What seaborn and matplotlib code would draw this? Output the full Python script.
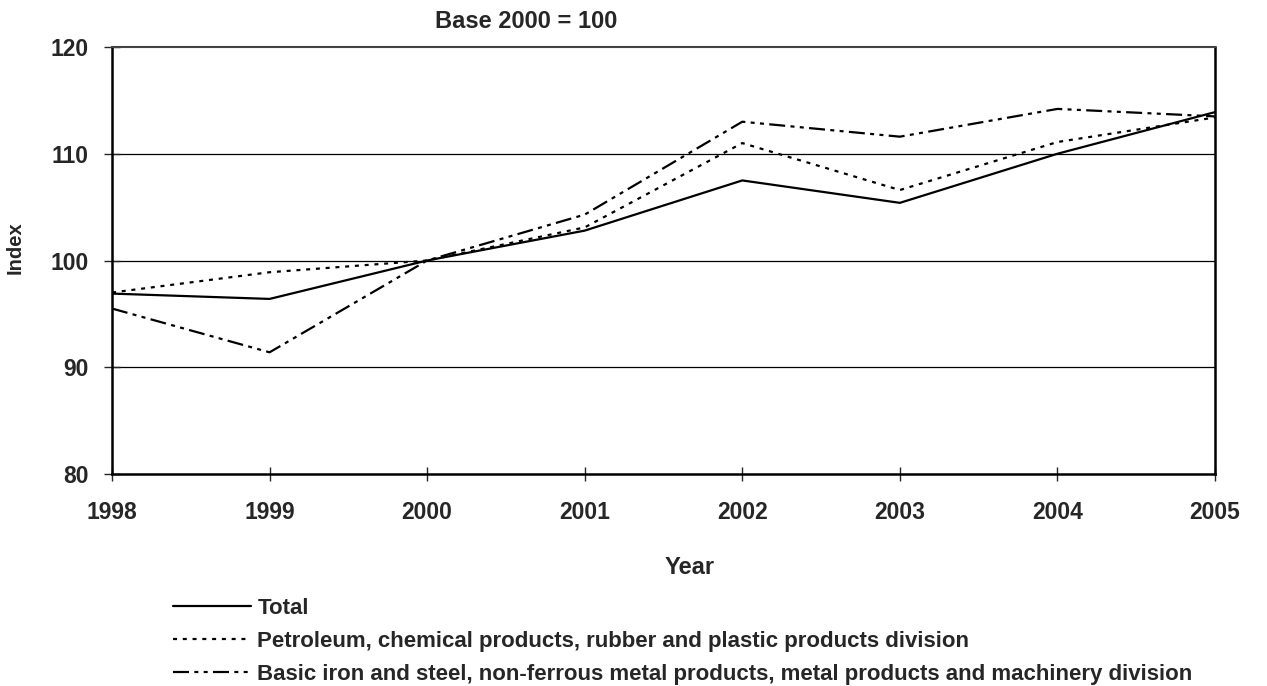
import matplotlib
matplotlib.use('Agg')
import matplotlib.pyplot as plt
import pandas as pd
import seaborn as sns

YEARS = [1998, 1999, 2000, 2001, 2002, 2003, 2004, 2005]
TOTAL = [96.9, 96.4, 100.0, 102.8, 107.5, 105.4, 110.0, 113.9]
PETROLEUM = [97.0, 98.9, 100.0, 103.1, 111.0, 106.6, 111.1, 113.4]
BASIC_METAL = [95.5, 91.4, 100.0, 104.3, 113.0, 111.6, 114.2, 113.5]

SERIES_NAMES = [
	'Total',
	'Petroleum, chemical products, rubber and plastic products division',
	'Basic iron and steel, non-ferrous metal products, metal products and machinery division',
]

W, H = 1267, 686


def build_frame():
	frames = []
	for name, values in zip(SERIES_NAMES, [TOTAL, PETROLEUM, BASIC_METAL]):
		frames.append(pd.DataFrame({'Year': YEARS, 'Index': values, 'series': name}))
	return pd.concat(frames, ignore_index=True)


sns.set_style('white')
plt.rcParams['font.family'] = ['Liberation Sans', 'DejaVu Sans']
plt.rcParams['font.weight'] = 'bold'
plt.rcParams['axes.labelweight'] = 'bold'

fig = plt.figure(figsize=(W / 100, H / 100), dpi=100)
# plot area in pixels: x 112..1215, y 47..474
ax = fig.add_axes([112 / W, 1 - 474 / H, (1215 - 112) / W, (474 - 47) / H])

data = build_frame()
dashes = {
	SERIES_NAMES[0]: '',
	SERIES_NAMES[1]: (1.8, 2.6),
	SERIES_NAMES[2]: (7.2, 2.4, 1.8, 2.4, 1.8, 2.4),
}
sns.lineplot(data=data, x='Year', y='Index', style='series', dashes=dashes,
	color='black', linewidth=1.6, ax=ax, legend=True)

ax.set_xlim(1998, 2005)
ax.set_ylim(80, 120)
ax.set_xticks(YEARS)
ax.set_yticks([80, 90, 100, 110, 120])
for y in [90, 100, 110]:
	ax.axhline(y, color='black', linewidth=0.9, zorder=0)

for side in ['left', 'bottom', 'right']:
	ax.spines[side].set_linewidth(1.8)
	ax.spines[side].set_color('black')
ax.spines['top'].set_linewidth(1.5)
ax.spines['top'].set_color('#444444')

ax.tick_params(axis='y', direction='inout', length=12, width=1, labelsize=16.5, pad=11, left=True)
ax.tick_params(axis='x', direction='inout', length=9.5, width=1, labelsize=16.5, pad=15, bottom=True)
for label in ax.get_xticklabels() + ax.get_yticklabels():
	label.set_fontweight('bold')

ax.set_xlabel('Year', fontsize=17, fontweight='bold', va='center')
ax.xaxis.set_label_coords((690 - 112) / (1215 - 112), -(568 - 474) / (474 - 47))
ax.set_ylabel('Index', fontsize=14.5, fontweight='bold', va='center')
ax.yaxis.set_label_coords(-(112 - 15) / (1215 - 112), (474 - 248) / (474 - 47))

fig.text(526 / W, 1 - 22 / H, 'Base 2000 = 100', ha='center', va='center',
	fontsize=17, fontweight='bold')

handles, labels = ax.get_legend_handles_labels()
ax.legend(handles, labels, loc='upper left', bbox_to_anchor=(173 / W, 1 - 598 / H),
	bbox_transform=fig.transFigure, frameon=False, borderpad=0, borderaxespad=0,
	handlelength=3.5, handletextpad=0.3, labelspacing=0.53,
	prop={'size': 16, 'weight': 'bold'})

plt.savefig('out.png', dpi=100)
